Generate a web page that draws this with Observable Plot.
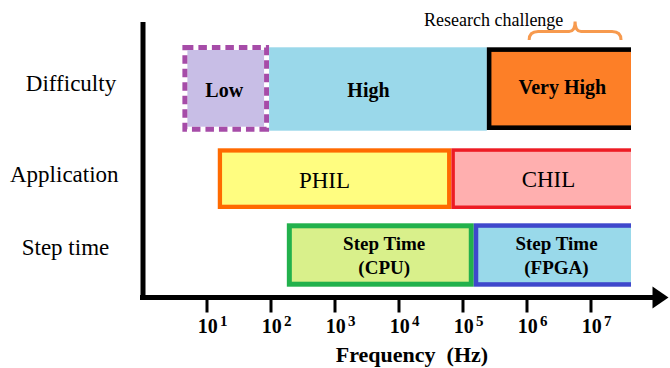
<!DOCTYPE html>
<html>
<head>
<meta charset="utf-8">
<script src="https://cdn.jsdelivr.net/npm/d3@7"></script>
<script src="https://cdn.jsdelivr.net/npm/@observablehq/plot@0.6"></script>
<style>
html, body { margin: 0; padding: 0; background: #fff; }
svg { display: block; }
</style>
</head>
<body>
<div id="chart"></div>
<script>
// ---- data ----
const rows = ["Difficulty", "Application", "Step time"];
const barRow = ["Difficulty", "Difficulty", "Difficulty", "Application", "Application", "Step time", "Step time"];
const barLabel = ["Low", "High", "Very High", "PHIL", "CHIL", "Step Time\n(CPU)", "Step Time\n(FPGA)"];
const barStart = [4.2, 95, 2.4e5, 15, 6.7e4, 180, 1.5e5];
const barEnd = [95, 2.4e5, 1e9, 6.7e4, 1e9, 1.5e5, 1e9]; // 1e9 = open-ended (runs past the axis end)
const tickExponents = [1, 2, 3, 4, 5, 6, 7];
const researchSpan = [1.1e6, 3e7];
const researchLabel = "Research challenge";
const xLabel = "Frequency\u00a0 (Hz)";

// ---- layout / styles ----
const W = 670, H = 368;
const xMax = 10 ** 7.633;
const SERIF = "'Liberation Serif', 'Times New Roman', Times, serif";

const bars = barLabel.map((label, i) => ({row: barRow[i], label, x1: barStart[i], x2: barEnd[i]}));

const barStyle = {
  "Low":               {fill: "#C8BEE6", stroke: "#A64CA8", sw: 5, dash: "8.5,5", top: 0, bottom: 0.3, font: 20, weight: "bold", dx: -2, dy: 0},
  "High":              {fill: "#9AD8EA", stroke: null, sw: 0, top: 2.3, bottom: 1.3, font: 20, weight: "bold", dx: -10, dy: 0},
  "Very High":         {fill: "#FD7F27", stroke: "#000000", sw: 4.6, top: 2.3, bottom: 2, font: 20, weight: "bold", dx: 3, dy: -3.2},
  "PHIL":              {fill: "#FFFD80", stroke: "#FF6A00", sw: 4.3, top: 16.3, bottom: 10, font: 23, weight: "normal", dx: -10.6, dy: 2.8},
  "CHIL":              {fill: "#FFAFAF", stroke: "#ED1C24", sw: 3.5, top: 16.3, bottom: 10, font: 23, weight: "normal", dx: 6.8, dy: 2.1},
  "Step Time\n(CPU)":  {fill: "#D9F08B", stroke: "#22B14C", sw: 5, top: 4.3, bottom: 19.3, font: 19, weight: "bold", dx: 3.4, dy: -8.4},
  "Step Time\n(FPGA)": {fill: "#99D9EA", stroke: "#3F48CC", sw: 4.5, top: 4.3, bottom: 19.3, font: 19, weight: "bold", dx: 3.6, dy: -8.4}
};
const rowLabelStyle = {
  "Difficulty":  {dx: -72, dy: -5.2},
  "Application": {dx: -78.7, dy: -1.2},
  "Step time":   {dx: -77.5, dy: -14.9}
};

const barMarks = [];
for (const d of bars) {
  const s = barStyle[d.label];
  const data = [d];
  if (s.dash) {
    barMarks.push(Plot.barX(data, {x1: "x1", x2: "x2", y: "row", fill: s.fill,
      insetTop: s.top + s.sw, insetBottom: s.bottom + s.sw, insetLeft: s.sw, insetRight: s.sw, clip: true}));
    barMarks.push(Plot.barX(data, {x1: "x1", x2: "x2", y: "row", fill: "none", stroke: s.stroke,
      strokeWidth: s.sw, strokeDasharray: s.dash,
      insetTop: s.top + s.sw / 2, insetBottom: s.bottom + s.sw / 2, insetLeft: s.sw / 2, insetRight: s.sw / 2, clip: true}));
  } else if (s.stroke) {
    barMarks.push(Plot.barX(data, {x1: "x1", x2: "x2", y: "row", fill: s.fill, stroke: s.stroke, strokeWidth: s.sw,
      insetTop: s.top + s.sw / 2, insetBottom: s.bottom + s.sw / 2, insetLeft: s.sw / 2, insetRight: s.sw / 2, clip: true}));
  } else {
    barMarks.push(Plot.barX(data, {x1: "x1", x2: "x2", y: "row", fill: s.fill,
      insetTop: s.top, insetBottom: s.bottom, clip: true}));
  }
}

const barTextMarks = bars.map(d => {
  const s = barStyle[d.label];
  return Plot.text([d], {
    x: b => Math.sqrt(b.x1 * Math.min(b.x2, xMax)),
    y: "row", text: "label", lineAnchor: "middle",
    fontSize: s.font, fontWeight: s.weight, lineHeight: 1.25,
    fill: "black", dx: s.dx, dy: s.dy
  });
});

const rowLabelMarks = rows.map(r => Plot.text([r], {
  y: d => d, text: d => d, frameAnchor: "left", textAnchor: "middle", lineAnchor: "middle",
  fontSize: 23, fill: "black", dx: rowLabelStyle[r].dx, dy: rowLabelStyle[r].dy
}));

// x axis line with filled arrow head
function axisArrow(index, scales, values, dimensions) {
  const {width, height, marginBottom} = dimensions;
  const y = height - marginBottom;
  const x0 = scales.x(1) - 2.5;
  const tip = width - 1.5;
  const base = tip - 16;
  const g = d3.create("svg:g");
  g.append("line").attr("x1", x0).attr("x2", base + 1).attr("y1", y).attr("y2", y)
    .attr("stroke", "black").attr("stroke-width", 5);
  g.append("path").attr("d", `M${base},${y - 11}L${tip},${y}L${base},${y + 11}Z`).attr("fill", "black");
  return g.node();
}

// curly brace over the research challenge span
function brace(index, scales, values, dimensions) {
  const {marginTop} = dimensions;
  const x1 = scales.x(researchSpan[0]), x2 = scales.x(researchSpan[1]);
  const xm = (x1 + x2) / 2;
  const yEnd = marginTop + 18, yLine = marginTop + 9.5, yTip = marginTop - 0.5;
  const r = 9, rm = 6;
  const p = `M${x1},${yEnd} Q${x1},${yLine} ${x1 + r},${yLine} L${xm - rm},${yLine} Q${xm},${yLine} ${xm},${yTip}`
          + ` Q${xm},${yLine} ${xm + rm},${yLine} L${x2 - r},${yLine} Q${x2},${yLine} ${x2},${yEnd}`;
  const g = d3.create("svg:g");
  g.append("path").attr("d", p).attr("fill", "none").attr("stroke", "#F79A4E").attr("stroke-width", 3);
  return g.node();
}

const chart = Plot.plot({
  width: W, height: H,
  marginLeft: 142.5, marginRight: 39, marginTop: 22, marginBottom: 70.5,
  style: {fontFamily: SERIF, background: "white", color: "black", overflow: "visible"},
  x: {type: "log", domain: [1, xMax]},
  y: {type: "band", domain: rows, range: [45, 306], padding: 0, round: false, axis: null},
  marks: [
    ...barMarks,
    Plot.ruleX([1], {stroke: "black", strokeWidth: 5}),
    axisArrow,
    Plot.axisX(tickExponents.map(e => 10 ** e), {tickSize: 15, strokeWidth: 3, tickFormat: () => "", label: null, stroke: "black"}),
    Plot.text(tickExponents, {x: e => 10 ** e, text: () => "10", frameAnchor: "bottom", textAnchor: "end", lineAnchor: "middle",
      dx: 10.7, dy: 29, fontSize: 20, fontWeight: "bold", fill: "black"}),
    Plot.text(tickExponents, {x: e => 10 ** e, text: e => String(e), frameAnchor: "bottom", textAnchor: "start", lineAnchor: "middle",
      dx: 13, dy: 22.7, fontSize: 15, fontWeight: "bold", fill: "black"}),
    Plot.text([xLabel], {text: d => d, frameAnchor: "bottom", lineAnchor: "middle", dx: 24.7, dy: 57.3, fontSize: 22, fontWeight: "bold", fill: "black"}),
    ...rowLabelMarks,
    ...barTextMarks,
    Plot.text([researchLabel], {x: () => researchSpan[0], text: d => d, frameAnchor: "top", textAnchor: "middle", lineAnchor: "middle",
      dx: -36, dy: -2.6, fontSize: 18, fill: "black"}),
    brace
  ]
});
document.getElementById("chart").appendChild(chart);
</script>
</body>
</html>
